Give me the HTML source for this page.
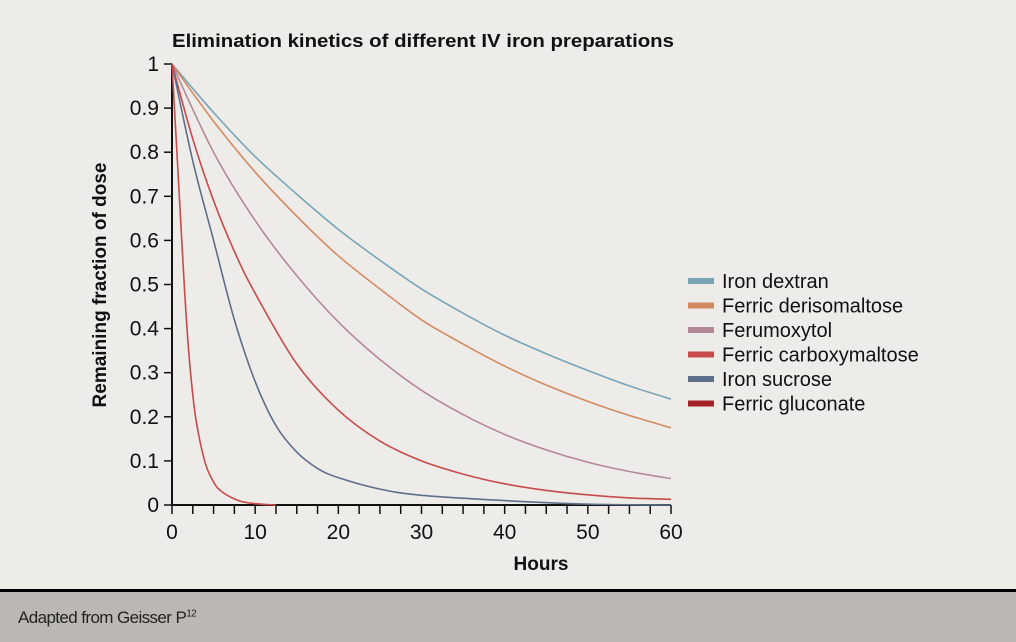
<!DOCTYPE html>
<html><head><meta charset="utf-8"><style>
html,body{margin:0;padding:0;background:#eeece9;}
body{width:1016px;height:642px;position:relative;overflow:hidden;font-family:"Liberation Sans",sans-serif;}
#footer{position:absolute;left:0;top:589px;width:1016px;height:53px;background:#bbb8b3;border-top:3px solid #000;box-sizing:border-box;}
#footer span{position:absolute;left:18px;top:16px;font-size:17px;color:#222;letter-spacing:-0.6px;}
</style></head><body>
<svg id="chart" width="1016" height="589" style="position:absolute;left:0;top:0" font-family="Liberation Sans, sans-serif">
<text x="172" y="47" font-size="18" font-weight="bold" fill="#111" textLength="502" lengthAdjust="spacingAndGlyphs">Elimination kinetics of different IV iron preparations</text>
<g id="axes"></g><g id="series"></g><g id="legend"></g>
<text x="541" y="570" font-size="19" font-weight="bold" text-anchor="middle" fill="#111">Hours</text>
<text transform="translate(106,285) rotate(-90)" font-size="19" font-weight="bold" text-anchor="middle" fill="#111">Remaining fraction of dose</text>
</svg>
<div id="footer"><span>Adapted from Geisser P<sup style="font-size:10px">12</sup></span></div>
<script>
const seriesNames=["Iron dextran","Ferric derisomaltose","Ferumoxytol","Ferric carboxymaltose","Iron sucrose","Ferric gluconate"];
const seriesColors=["#78a5b6","#d38a61","#b58898","#c84b4b","#5e6e8b","#a42225"];
const hours5=[0,5,10,15,20,25,30,35,40,45,50,55,60];
const dextranValues=[1,.89,.79,.705,.625,.555,.49,.435,.385,.343,.305,.27,.24];
const derisomaltoseValues=[1,.87,.755,.655,.565,.49,.42,.365,.315,.272,.235,.203,.175];
const ferumoxytolValues=[1,.80,.645,.52,.415,.33,.26,.205,.16,.125,.097,.076,.06];
const carboxyHours=[0,2.5,5,7.5,10,15,20,25,30,35,40,45,50,55,60];
const carboxyValues=[1,.83,.69,.575,.48,.32,.215,.145,.1,.07,.048,.033,.023,.016,.013];
const sucroseHours=[0,2.5,5,7.5,10,12.5,15,17.5,20,25,30,40,50,60];
const sucroseValues=[1,.78,.6,.42,.28,.18,.12,.083,.062,.036,.022,.01,.002,0];
const gluconateHours=[0,.5,1,1.5,2,2.5,3,4,5,6,8,10,12.5];
const gluconateValues=[1,.83,.66,.49,.35,.25,.18,.095,.052,.03,.01,.003,0];
const xTicks=[0,10,20,30,40,50,60];
const yTicks=[0,.1,.2,.3,.4,.5,.6,.7,.8,.9,1];
const yTickLabels=["0","0.1","0.2","0.3","0.4","0.5","0.6","0.7","0.8","0.9","1"];

const X0=172,X1=671,Y0=505,Y1=64;
const xs=h=>X0+(X1-X0)*h/60, ys=v=>Y0-(Y0-Y1)*v;
const NS="http://www.w3.org/2000/svg";
function mk(tag,attrs,parent){const e=document.createElementNS(NS,tag);for(const k in attrs)e.setAttribute(k,attrs[k]);parent.appendChild(e);return e;}
const ax=document.getElementById('axes');
let e=mk('line',{x1:X0,y1:Y1,x2:X0,y2:Y0,stroke:'#111','stroke-width':2},ax);


e=mk('line',{x1:X0,y1:Y0,x2:X1,y2:Y0,stroke:'#111','stroke-width':2},ax);


for(let h=0;h<=60;h+=2.5){e=mk('line',{x1:xs(h),y1:Y0,x2:xs(h),y2:Y0+9,stroke:'#111','stroke-width':1.5},ax);

}
xTicks.forEach(t=>{e=mk('text',{x:xs(t),y:539,'font-size':21,'text-anchor':'middle',fill:'#111'},ax);e.textContent=t;

});
yTicks.forEach((t,i)=>{e=mk('line',{x1:X0-8,y1:ys(t),x2:X0,y2:ys(t),stroke:'#111','stroke-width':1.5},ax);


e=mk('text',{x:X0-13,y:ys(t)+7,'font-size':21,'text-anchor':'end',fill:'#111'},ax);e.textContent=yTickLabels[i];

});
function path(hs,vs){const p=hs.map((h,i)=>[xs(h),ys(vs[i])]);let d=`M${p[0][0]},${p[0][1]}`;
for(let i=0;i<p.length-1;i++){const a=p[Math.max(0,i-1)],b=p[i],c=p[i+1],f=p[Math.min(p.length-1,i+2)];
d+=` C${b[0]+(c[0]-a[0])/6},${b[1]+(c[1]-a[1])/6} ${c[0]-(f[0]-b[0])/6},${c[1]-(f[1]-b[1])/6} ${c[0]},${c[1]}`;}return d;}
const data=[[hours5,dextranValues],[hours5,derisomaltoseValues],[hours5,ferumoxytolValues],[carboxyHours,carboxyValues],[sucroseHours,sucroseValues],[gluconateHours,gluconateValues]];
const sg=document.getElementById('series');
const keys=['iron-dextran','ferric-derisomaltose','ferumoxytol','ferric-carboxymaltose','iron-sucrose','ferric-gluconate'];
data.forEach((d,i)=>{const colr=i==5?'#c84b4b':seriesColors[i];
const el=mk('path',{d:path(d[0],d[1]),fill:'none',stroke:colr,'stroke-width':1.6},sg);

});
const lg=document.getElementById('legend');
seriesNames.forEach((n,i)=>{const y=281+i*24.5;
const g=mk('g',{},lg);


mk('rect',{x:688,y:y-3,width:26,height:6,fill:seriesColors[i]},g);
const t=mk('text',{x:722,y:y+7,'font-size':20,fill:'#111'},g);t.textContent=n;});
</script>
</body></html>
